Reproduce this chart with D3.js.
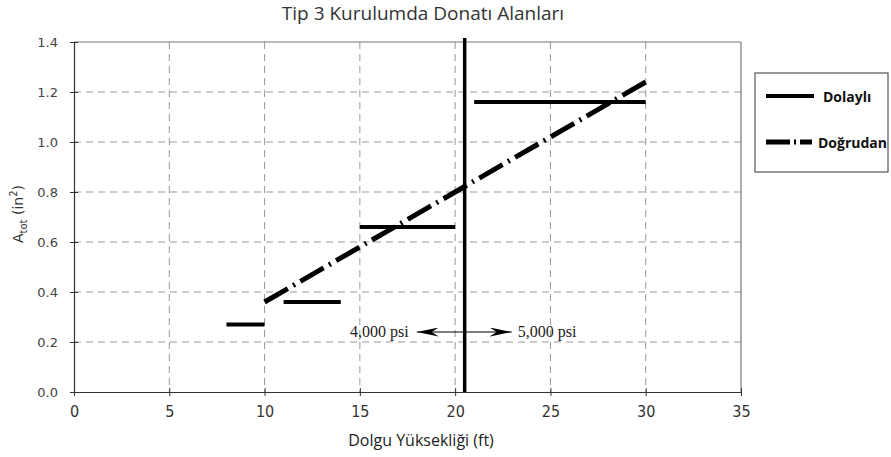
<!DOCTYPE html>
<html>
<head>
<meta charset="utf-8">
<script src="https://cdn.jsdelivr.net/npm/d3@7/dist/d3.min.js"></script>
<style>
  html, body { margin: 0; padding: 0; background: #fff; }
  svg { display: block; }
</style>
</head>
<body>
<svg id="chart" width="891" height="457"></svg>
<script>
// Reinforcement areas for the indirect (Dolaylı) design: stepped horizontal segments
const indirectSteps = [
  { x0: 8,  x1: 10, a: 0.27 },
  { x0: 11, x1: 14, a: 0.36 },
  { x0: 15, x1: 20, a: 0.66 },
  { x0: 21, x1: 30, a: 1.16 }
];
// Direct (Doğrudan) design: straight line between two fill heights
const directX = [10, 30];
const directA = [0.36, 1.24];
// Concrete strength changes at this fill height
const strengthBoundary = 20.5;
const strengthLabels = ["4,000 psi", "5,000 psi"];
const xTicks = [0, 5, 10, 15, 20, 25, 30, 35];
const yTicks = [0.0, 0.2, 0.4, 0.6, 0.8, 1.0, 1.2, 1.4];

(function () {
const svg = d3.select("#chart");
const pLeft = 74, pRight = 741, pTop = 42, pBottom = 392;

const x = d3.scaleLinear().domain([0, 35]).range([pLeft, pRight]);
const y = d3.scaleLinear().domain([0, 1.4]).range([pBottom, pTop]);

// Notched arrowhead for the strength annotation
svg.append("defs").append("marker")
  .attr("id", "arrow").attr("viewBox", "0 0 22 9")
  .attr("refX", 22).attr("refY", 4.5)
  .attr("markerWidth", 22).attr("markerHeight", 9)
  .attr("markerUnits", "userSpaceOnUse")
  .attr("orient", "auto")
  .append("path").attr("d", "M0,0 L22,4.5 L0,9 L7,4.5 Z").attr("fill", "#000");

// Title
svg.append("text")
  .attr("x", 423).attr("y", 20)
  .attr("text-anchor", "middle")
  .attr("font-family", "'Open Sans', sans-serif")
  .attr("font-size", 19).attr("fill", "#333")
  .text("Tip 3 Kurulumda Donatı Alanları");

// Grid
const grid = svg.append("g").attr("stroke", "#999").attr("stroke-width", 1)
  .attr("stroke-dasharray", "7,5");
xTicks.filter(t => t > 0 && t < 35).forEach(t => {
  grid.append("line").attr("x1", x(t)).attr("x2", x(t)).attr("y1", pTop).attr("y2", pBottom);
});
yTicks.filter(t => t > 0 && t < 1.4).forEach(t => {
  grid.append("line").attr("x1", pLeft).attr("x2", pRight).attr("y1", y(t)).attr("y2", y(t));
});

// Frame
svg.append("line").attr("x1", pLeft).attr("x2", pRight).attr("y1", pTop).attr("y2", pTop)
  .attr("stroke", "#777").attr("stroke-width", 1.2);
svg.append("line").attr("x1", pRight).attr("x2", pRight).attr("y1", pTop).attr("y2", pBottom)
  .attr("stroke", "#777").attr("stroke-width", 1.2);

// Axes
const xAxis = d3.axisBottom(x).tickValues(xTicks).tickFormat(d3.format("d"))
  .tickSizeInner(4).tickSizeOuter(0).tickPadding(10);
const gx = svg.append("g").attr("transform", `translate(0,${pBottom})`).call(xAxis);
gx.selectAll(".tick line").attr("y1", -4).attr("y2", 4).attr("stroke", "#333");
gx.select(".domain").attr("stroke", "#333").attr("stroke-width", 1.2);
gx.selectAll("text")
  .attr("font-family", "'Liberation Sans Narrow', 'DejaVu Sans Condensed', sans-serif")
  .attr("font-size", 16).attr("fill", "#333");

const yAxis = d3.axisLeft(y).tickValues(yTicks).tickFormat(d3.format(".1f"))
  .tickSizeInner(4).tickSizeOuter(0).tickPadding(12);
const gy = svg.append("g").attr("transform", `translate(${pLeft},0)`).call(yAxis);
gy.selectAll(".tick line").attr("x1", -4).attr("x2", 4).attr("stroke", "#333");
gy.select(".domain").attr("stroke", "#333").attr("stroke-width", 1.2);
gy.selectAll("text").attr("font-family", "'DejaVu Sans', sans-serif")
  .attr("font-size", 13).attr("fill", "#444");

// Axis titles
svg.append("text")
  .attr("x", 421).attr("y", 446)
  .attr("text-anchor", "middle")
  .attr("font-family", "'Open Sans', sans-serif")
  .attr("font-size", 16).attr("fill", "#222")
  .text("Dolgu Yüksekliği (ft)");

const yl = svg.append("text")
  .attr("transform", `translate(23,214) rotate(-90)`)
  .attr("text-anchor", "middle")
  .attr("font-family", "'DejaVu Sans', sans-serif")
  .attr("font-size", 14).attr("fill", "#333");
yl.append("tspan").text("A");
yl.append("tspan").attr("font-size", 10).attr("dy", 4).text("tot");
yl.append("tspan").attr("dy", -4).text(" (in");
yl.append("tspan").attr("font-size", 10).attr("dy", -6).text("2");
yl.append("tspan").attr("dy", 6).text(")");

// Vertical boundary line
svg.append("line")
  .attr("x1", x(strengthBoundary)).attr("x2", x(strengthBoundary))
  .attr("y1", pTop - 4).attr("y2", pBottom)
  .attr("stroke", "#000").attr("stroke-width", 3.5);

// Indirect design steps
svg.append("g").selectAll("line").data(indirectSteps).join("line")
  .attr("x1", d => x(d.x0)).attr("x2", d => x(d.x1))
  .attr("y1", d => y(d.a)).attr("y2", d => y(d.a))
  .attr("stroke", "#000").attr("stroke-width", 4);

// Direct design line: long dash, dot, long dash; pattern stretched so both ends are dashes
const lineGen = d3.line().x(d => x(d[0])).y(d => y(d[1]));
const directPts = directX.map((v, i) => [v, directA[i]]);
const directPath = svg.append("path").datum(directPts)
  .attr("d", lineGen)
  .attr("fill", "none").attr("stroke", "#000").attr("stroke-width", 5);
const L = directPath.node().getTotalLength();
const dash = 26, gap = 6, dot = 2, period = dash + gap + dot + gap;
const n = Math.max(1, Math.round((L - dash) / period));
const k = L / (n * period + dash);
directPath.attr("stroke-dasharray", [dash, gap, dot, gap].map(v => v * k).join(","));

// Strength annotation
const ay = y(0.24);
const bx = x(strengthBoundary);
svg.append("line")
  .attr("x1", bx).attr("x2", bx - 48)
  .attr("y1", ay).attr("y2", ay)
  .attr("stroke", "#000").attr("stroke-width", 1.2).attr("marker-end", "url(#arrow)");
svg.append("line")
  .attr("x1", bx).attr("x2", bx + 47)
  .attr("y1", ay).attr("y2", ay)
  .attr("stroke", "#000").attr("stroke-width", 1.2).attr("marker-end", "url(#arrow)");
svg.append("text").attr("x", bx - 56).attr("y", ay + 5)
  .attr("text-anchor", "end")
  .attr("font-family", "'Liberation Serif', 'Times New Roman', serif")
  .attr("font-size", 16).attr("fill", "#222").text(strengthLabels[0]);
svg.append("text").attr("x", bx + 53).attr("y", ay + 5)
  .attr("text-anchor", "start")
  .attr("font-family", "'Liberation Serif', 'Times New Roman', serif")
  .attr("font-size", 16).attr("fill", "#222").text(strengthLabels[1]);

// Legend
const lg = svg.append("g");
lg.append("rect").attr("x", 755).attr("y", 73).attr("width", 133).attr("height", 99)
  .attr("fill", "#fff").attr("stroke", "#555").attr("stroke-width", 1.2);
lg.append("line").attr("x1", 766).attr("x2", 814).attr("y1", 96).attr("y2", 96)
  .attr("stroke", "#000").attr("stroke-width", 4);
lg.append("text").attr("x", 823).attr("y", 102)
  .attr("font-family", "'Open Sans', sans-serif").attr("font-weight", "bold")
  .attr("font-size", 14).attr("fill", "#111").text("Dolaylı");
lg.append("line").attr("x1", 766).attr("x2", 812).attr("y1", 142).attr("y2", 142)
  .attr("stroke", "#000").attr("stroke-width", 5).attr("stroke-dasharray", "24,4,2,4");
lg.append("text").attr("x", 818).attr("y", 148)
  .attr("font-family", "'Open Sans', sans-serif").attr("font-weight", "bold")
  .attr("font-size", 14).attr("fill", "#111").text("Doğrudan");
})();
</script>
</body>
</html>
